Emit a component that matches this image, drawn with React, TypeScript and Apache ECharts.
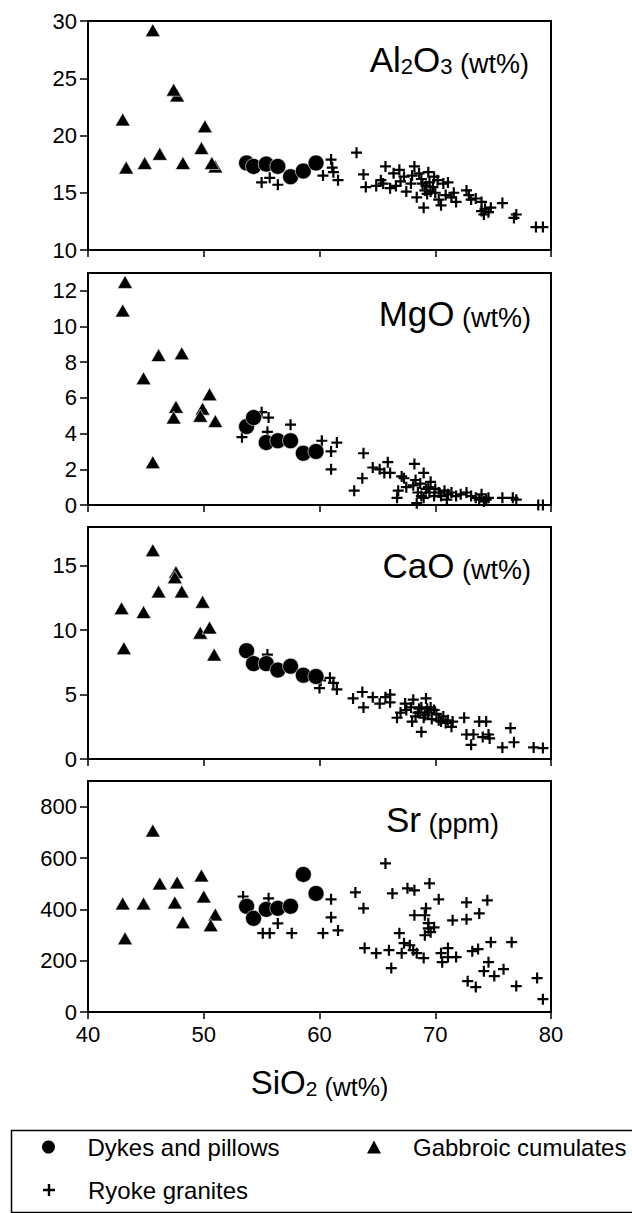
import React, { useEffect, useRef } from "react";
import * as echarts from "echarts";

// ---------- data ----------
const xTickValues = [40, 50, 60, 70, 80];

const yTicksAl2O3 = [10, 15, 20, 25, 30];
const yTicksMgO = [0, 2, 4, 6, 8, 10, 12];
const yTicksCaO = [0, 5, 10, 15];
const yTicksSr = [0, 200, 400, 600, 800];

const dykesSiO2 = [53.7, 54.3, 55.4, 56.4, 57.5, 58.6, 59.7];
const dykesAl2O3 = [17.6, 17.3, 17.5, 17.3, 16.4, 16.9, 17.6];
const dykesMgO = [4.4, 4.9, 3.5, 3.6, 3.6, 2.9, 3.0];
const dykesCaO = [8.4, 7.4, 7.4, 6.9, 7.2, 6.5, 6.4];
const dykesSr = [412, 365, 400, 404, 412, 536, 462];

const gabbroAl2O3 = [[43.0, 21.4], [43.3, 17.2], [44.9, 17.6], [45.6, 29.2], [46.2, 18.4], [47.7, 23.5], [47.4, 24.0], [48.2, 17.6], [49.8, 18.9], [50.1, 20.8], [51.0, 17.3], [50.7, 17.6]];
const gabbroMgO = [[43.0, 10.9], [43.2, 12.5], [44.8, 7.1], [46.1, 8.4], [45.6, 2.4], [48.1, 8.5], [47.6, 5.5], [47.4, 4.9], [49.9, 5.4], [49.7, 5.0], [50.5, 6.2], [51.0, 4.7]];
const gabbroCaO = [[42.9, 11.7], [43.1, 8.6], [44.8, 11.4], [45.6, 16.2], [46.1, 13.0], [47.6, 14.5], [47.5, 14.1], [48.1, 13.0], [49.9, 12.2], [49.7, 9.8], [50.5, 10.2], [50.9, 8.1]];
const gabbroSr = [[43.0, 423], [43.2, 287], [44.8, 423], [45.6, 707], [46.2, 501], [47.7, 505], [47.5, 427], [48.2, 350], [49.8, 532], [50.0, 450], [51.0, 380], [50.6, 338]];

const graniteAl2O3 = [[55.0, 15.9], [55.7, 16.3], [56.4, 15.7], [60.3, 16.5], [61.0, 17.9], [61.1, 17.2], [61.2, 16.8], [61.6, 16.1], [63.2, 18.5], [63.8, 16.6], [64.0, 15.5], [64.9, 15.6], [65.3, 16.1], [65.5, 15.8], [65.7, 17.3], [66.1, 15.4], [66.4, 16.7], [66.9, 17.0], [67.3, 16.4], [67.5, 15.1], [67.9, 15.8], [68.2, 17.3], [68.4, 14.6], [68.6, 16.7], [69.0, 13.7], [69.1, 15.2], [69.4, 16.8], [69.5, 15.9], [69.6, 15.1], [69.9, 16.4], [70.3, 14.4], [70.5, 13.9], [70.7, 15.8], [71.1, 15.9], [71.4, 14.6], [71.8, 14.2], [72.7, 15.2], [73.1, 14.4], [73.5, 14.5], [74.0, 14.2], [74.2, 13.1], [74.6, 13.3], [74.8, 13.7], [75.8, 14.1], [76.8, 12.8], [77.0, 13.1], [78.7, 12.0], [79.3, 12.0], [68.8, 16.2], [69.2, 15.6], [69.8, 15.5], [70.0, 15.0], [68.9, 15.8], [69.3, 14.9], [70.2, 16.1], [67.0, 16.0], [66.6, 15.6], [68.0, 16.5], [71.6, 15.0], [70.9, 14.8], [72.9, 14.8], [74.3, 13.6], [74.0, 13.4]];
const graniteMgO = [[53.3, 3.8], [55.0, 5.2], [55.6, 4.9], [55.5, 4.1], [57.5, 4.5], [60.2, 3.6], [61.5, 3.5], [61.0, 3.0], [61.0, 2.0], [63.8, 2.9], [63.0, 0.8], [63.7, 1.5], [64.6, 2.1], [65.2, 2.0], [65.9, 2.4], [65.6, 1.8], [66.1, 1.8], [67.1, 1.6], [66.8, 0.8], [66.7, 0.4], [67.3, 1.5], [67.5, 1.0], [68.2, 2.3], [68.1, 1.1], [69.0, 1.8], [68.5, 0.7], [69.0, 0.4], [69.4, 1.0], [69.5, 0.7], [69.9, 0.5], [70.3, 0.7], [70.8, 0.8], [71.1, 0.6], [71.4, 0.7], [71.8, 0.5], [72.7, 0.7], [73.1, 0.5], [73.5, 0.4], [74.0, 0.6], [74.4, 0.3], [74.6, 0.4], [75.8, 0.4], [76.7, 0.4], [77.0, 0.3], [78.9, 0.0], [79.3, 0.0], [68.3, 1.4], [68.7, 1.2], [69.2, 0.9], [68.8, 0.5], [70.0, 0.9], [69.6, 1.3], [70.5, 0.5], [72.2, 0.6], [73.8, 0.3], [74.2, 0.2], [71.0, 0.3], [68.4, 0.1]];
const graniteCaO = [[55.5, 8.1], [60.0, 5.5], [60.1, 6.1], [60.9, 6.3], [61.2, 5.9], [61.5, 5.4], [62.9, 4.7], [63.7, 5.2], [63.8, 4.0], [64.6, 4.8], [65.2, 4.3], [65.7, 4.8], [66.1, 5.0], [66.1, 4.4], [66.7, 3.2], [67.0, 3.6], [67.4, 4.3], [67.5, 3.8], [68.0, 2.9], [67.9, 4.0], [68.1, 4.6], [68.5, 3.6], [68.8, 2.1], [68.8, 4.0], [69.0, 3.2], [69.2, 4.7], [69.4, 3.6], [69.6, 4.0], [69.9, 3.8], [70.3, 3.0], [70.7, 3.3], [70.9, 2.8], [71.4, 2.5], [71.5, 2.9], [72.5, 3.2], [72.7, 1.9], [73.1, 1.1], [73.3, 1.9], [73.8, 2.9], [74.1, 1.7], [74.4, 2.9], [74.6, 1.9], [74.7, 1.6], [75.8, 0.9], [76.5, 2.4], [76.8, 1.3], [78.5, 0.9], [79.3, 0.85], [68.6, 3.9], [69.1, 3.4], [69.3, 3.9], [68.3, 3.3], [70.1, 3.5], [69.7, 3.1], [70.5, 2.9], [71.1, 3.0]];
const graniteSr = [[53.4, 450], [55.6, 443], [55.1, 307], [55.7, 307], [56.4, 345], [57.6, 307], [60.3, 307], [61.0, 439], [61.0, 369], [61.6, 318], [63.1, 466], [63.8, 404], [63.9, 249], [64.9, 229], [65.7, 579], [66.0, 241], [66.2, 171], [66.3, 462], [66.9, 307], [67.1, 229], [67.3, 268], [67.6, 482], [67.8, 260], [68.1, 241], [68.2, 474], [68.2, 377], [68.4, 229], [69.0, 210], [69.1, 377], [69.1, 299], [69.2, 404], [69.4, 326], [69.4, 346], [69.5, 501], [69.6, 311], [69.9, 330], [70.3, 439], [70.5, 229], [70.6, 194], [71.1, 249], [71.1, 214], [71.5, 357], [71.8, 214], [72.7, 427], [72.7, 361], [72.8, 120], [73.2, 237], [73.5, 97], [73.7, 245], [73.8, 384], [74.2, 159], [74.5, 435], [74.6, 194], [74.8, 272], [75.1, 140], [75.9, 167], [76.6, 272], [77.0, 101], [78.8, 132], [79.3, 50]];

const seriesNames = ["Dykes and pillows", "Gabbroic cumulates", "Ryoke granites"];

// ---------- styling ----------
const FONT = "'Liberation Sans', Arial, Helvetica, sans-serif";
const PLUS = "path://M4,0H6V4H10V6H6V10H4V6H0V4H4Z";

export default function App() {
  const ref = useRef<HTMLDivElement>(null);

  useEffect(() => {
    document.body.style.margin = "0";
    if (!ref.current) return;
    const chart = echarts.init(ref.current, undefined, { renderer: "svg" });

    const grids = [
      { top: 21, height: 229 },
      { top: 273, height: 232 },
      { top: 527, height: 232 },
      { top: 781, height: 231 },
    ];
    const yRanges = [
      { min: 10, max: 30, interval: 5, ticks: yTicksAl2O3 },
      { min: 0, max: 13, interval: 2, ticks: yTicksMgO },
      { min: 0, max: 18, interval: 5, ticks: yTicksCaO },
      { min: 0, max: 900, interval: 200, ticks: yTicksSr },
    ];
    const dykeY = [dykesAl2O3, dykesMgO, dykesCaO, dykesSr];
    const gabbro = [gabbroAl2O3, gabbroMgO, gabbroCaO, gabbroSr];
    const granite = [graniteAl2O3, graniteMgO, graniteCaO, graniteSr];

    const tok = (size: number) => ({
      fontSize: size,
      fontFamily: FONT,
      fontWeight: "normal",
      color: "#000",
      lineHeight: size,
      verticalAlign: "bottom",
    });
    const titleRich = { big: tok(35), sub: tok(22), unit: tok(27) };
    const nameRich = { big: tok(33), sub: tok(21), unit: tok(25) };

    const titles = [
      { text: "{big|Al}{sub|2}{big|O}{sub|3}{unit| (wt%)}", right: 103, top: 42 },
      { text: "{big|MgO}{unit| (wt%)}", right: 101, top: 296 },
      { text: "{big|CaO}{unit| (wt%)}", right: 101, top: 548 },
      { text: "{big|Sr}{unit| (ppm)}", right: 133, top: 802 },
    ].map((t) => ({ ...t, padding: 0, textStyle: { fontWeight: "normal", rich: titleRich } }));

    const series: any[] = [];
    for (let i = 0; i < 4; i++) {
      series.push({
        name: seriesNames[2],
        type: "scatter",
        xAxisIndex: i,
        yAxisIndex: i,
        symbol: PLUS,
        symbolSize: 11,
        itemStyle: { color: "#000", opacity: 1 },
        data: granite[i],
        z: 2,
      });
      series.push({
        name: seriesNames[1],
        type: "scatter",
        xAxisIndex: i,
        yAxisIndex: i,
        symbol: "triangle",
        symbolSize: [15, 13],
        itemStyle: { color: "#000", borderColor: "#fff", borderWidth: 0.6, opacity: 1 },
        data: gabbro[i],
        z: 3,
      });
      series.push({
        name: seriesNames[0],
        type: "scatter",
        xAxisIndex: i,
        yAxisIndex: i,
        symbol: "circle",
        symbolSize: 16,
        itemStyle: { color: "#000", borderColor: "#fff", borderWidth: 0.6, opacity: 1 },
        data: dykesSiO2.map((x, k) => [x, dykeY[i][k]]),
        z: 4,
      });
    }

    const legendText = { fontSize: 24, fontFamily: FONT, color: "#000" };
    const legendBase = {
      orient: "horizontal",
      itemWidth: 14,
      itemHeight: 13,
      selectedMode: false,
      itemStyle: { opacity: 1, borderWidth: 0 },
    };

    chart.setOption({
      animation: false,
      backgroundColor: "#fff",
      title: titles,
      grid: grids.map((g) => ({
        left: 88,
        right: 81,
        top: g.top,
        height: g.height,
        show: true,
        borderColor: "#000",
        borderWidth: 2,
        backgroundColor: "transparent",
      })),
      xAxis: grids.map((_, i) => ({
        type: "value",
        gridIndex: i,
        min: 40,
        max: 80,
        interval: 10,
        splitLine: { show: false },
        axisLine: { show: true, lineStyle: { color: "#000", width: 2 } },
        axisTick: { show: true, inside: false, length: 7, lineStyle: { color: "#000", width: 1.5 }, customValues: xTickValues },
        axisLabel: {
          show: i === 3,
          margin: 11,
          fontSize: 22,
          fontFamily: FONT,
          color: "#000",
          customValues: xTickValues,
        },
        name: i === 3 ? "{big|SiO}{sub|2}{unit| (wt%)}" : "",
        nameLocation: "middle",
        nameGap: 54,
        nameTextStyle: { rich: nameRich },
      })),
      yAxis: yRanges.map((r, i) => ({
        type: "value",
        gridIndex: i,
        min: r.min,
        max: r.max,
        interval: r.interval,
        splitLine: { show: false },
        axisLine: { show: true, lineStyle: { color: "#000", width: 2 } },
        axisTick: { show: true, inside: false, length: 8, lineStyle: { color: "#000", width: 1.5 }, customValues: r.ticks },
        axisLabel: {
          margin: 11,
          fontSize: 22,
          fontFamily: FONT,
          color: "#000",
          customValues: r.ticks,
        },
      })),
      legend: [
        { ...legendBase, left: 37, top: 1130, data: [{ name: seriesNames[0], icon: "circle" }], textStyle: { ...legendText, padding: [0, 0, 0, 27] } },
        { ...legendBase, left: 362, top: 1130, data: [{ name: seriesNames[1], icon: "triangle" }], textStyle: { ...legendText, padding: [0, 0, 0, 27] } },
        { ...legendBase, left: 38, top: 1173, itemWidth: 12, itemHeight: 12, data: [{ name: seriesNames[2], icon: PLUS }], textStyle: { ...legendText, padding: [0, 0, 0, 28] } },
      ],
      graphic: [
        {
          type: "rect",
          left: 9,
          top: 1128,
          shape: { width: 640, height: 82 },
          style: { fill: "none", stroke: "#000", lineWidth: 1.5 },
          silent: true,
        },
      ],
      series,
    });

    return () => chart.dispose();
  }, []);

  return <div ref={ref} style={{ width: 632, height: 1213 }} />;
}
